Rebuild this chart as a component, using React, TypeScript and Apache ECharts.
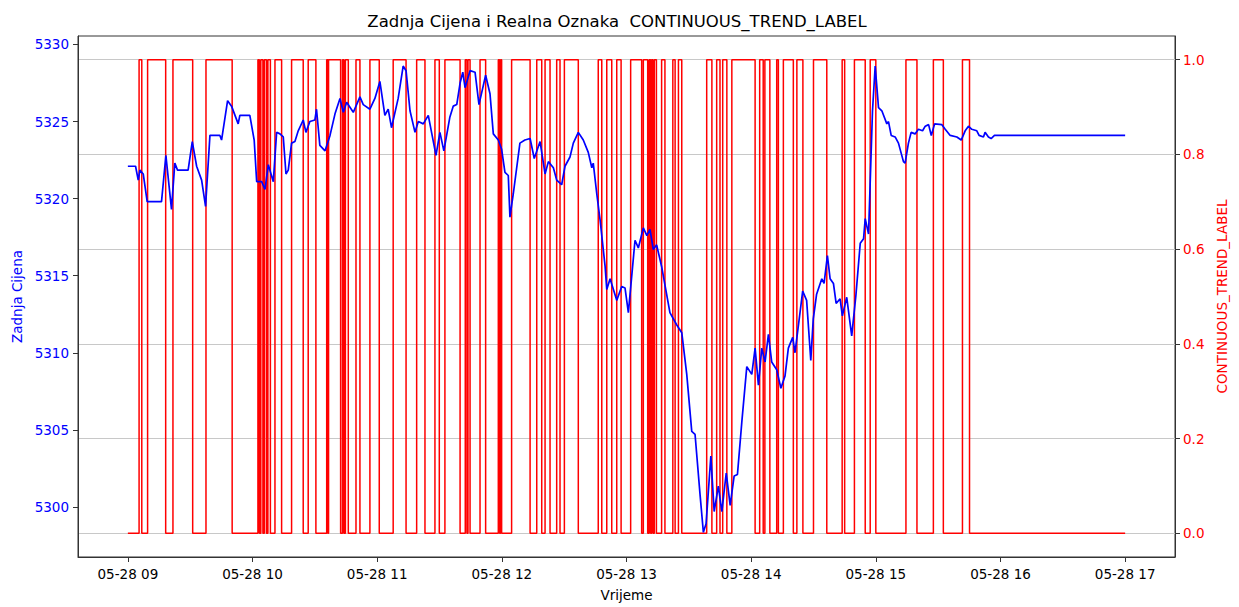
import React, { useEffect, useRef } from 'react';
import * as echarts from 'echarts';

// ---- data (time in minutes after 05-28 09:00) ----
const X_TICK_MINUTES = [0, 60, 120, 180, 240, 300, 360, 420, 480];
const X_TICK_LABELS = ['05-28 09', '05-28 10', '05-28 11', '05-28 12', '05-28 13', '05-28 14', '05-28 15', '05-28 16', '05-28 17'];
const PRICE_TICKS = [5300, 5305, 5310, 5315, 5320, 5325, 5330];
const LABEL_TICKS = [0, 0.2, 0.4, 0.6, 0.8, 1.0];

const priceMinutes = [
  0, 3.7, 5.0, 5.8, 7.4, 9.3, 16.2, 18.3, 21.0, 22.6, 23.9, 29.0, 31.0, 33.1, 35.5, 37.4, 39.5, 44.3, 45.1, 48.0,
  49.9, 53.1, 53.9, 58.7, 60.8, 62.0, 64.4, 66.0, 67.6, 70.0, 71.6, 73.2, 74.8, 76.1, 77.2, 78.8, 80.4, 82.0, 84.4, 85.7,
  87.6, 90.0, 90.8, 92.4, 94.9, 97.3, 99.7, 102.1, 103.7, 105.3, 108.5, 111.7, 113.3, 116.5, 118.9, 121.3, 123.7, 125.3, 126.9, 130.1,
  132.5, 133.9, 135.8, 138.2, 139.8, 142.2, 144.6, 148.3, 150.2, 152.1, 155.0, 156.6, 158.3, 159.9, 161.2, 162.3, 164.7, 167.1, 169.0, 172.2,
  174.3, 175.9, 178.3, 179.9, 181.5, 183.1, 183.9, 185.5, 188.7, 191.1, 193.6, 195.6, 198.4, 200.8, 202.4, 204.8, 206.4, 208.8, 210.4, 212.8,
  214.4, 216.8, 219.2, 221.6, 223.3, 224.0, 225.7, 227.3, 229.7, 230.5, 232.1, 235.3, 237.7, 239.3, 240.9, 244.1, 245.7, 248.1, 249.8, 251.3,
  252.9, 254.5, 256.9, 260.9, 264.2, 266.6, 269.0, 271.4, 273.0, 275.4, 277.0, 278.3, 280.6, 282.2, 284.2, 285.9, 288.0, 289.9, 291.8, 293.4,
  295.5, 297.9, 300.3, 301.9, 303.5, 305.1, 306.7, 308.3, 309.9, 312.3, 314.3, 316.3, 317.9, 320.0, 321.1, 324.8, 326.7, 328.7, 329.9, 331.5,
  334.0, 335.1, 336.7, 338.0, 339.6, 340.9, 342.8, 343.9, 346.0, 348.4, 350.4, 352.5, 354.1, 354.9, 356.5, 358.4, 359.7, 361.3, 362.9, 365.3,
  366.1, 367.4, 369.3, 370.9, 373.3, 374.1, 375.7, 377.0, 378.9, 380.5, 382.5, 383.8, 385.4, 386.7, 388.3, 391.8, 393.4, 395.8, 399.0, 401.1,
  403.0, 404.6, 406.2, 408.6, 409.7, 411.8, 412.6, 414.2, 415.5, 417.1, 480,
];
const priceValues = [
  5322.1, 5322.1, 5321.2, 5321.85, 5321.6, 5319.8, 5319.8, 5322.8, 5319.3, 5322.3, 5321.85, 5321.85, 5323.7, 5322.1, 5321.2, 5319.5, 5324.1, 5324.1, 5323.8, 5326.35,
  5326.0, 5324.85, 5325.4, 5325.4, 5323.8, 5321.1, 5321.1, 5320.6, 5322.2, 5321.1, 5324.3, 5324.2, 5324.0, 5321.6, 5321.85, 5323.6, 5323.7, 5324.4, 5325.1, 5324.3,
  5325.0, 5325.1, 5325.8, 5323.45, 5323.1, 5324.1, 5325.5, 5326.5, 5325.6, 5326.25, 5325.6, 5326.6, 5326.1, 5325.8, 5326.5, 5327.6, 5325.4, 5325.8, 5324.6, 5326.5,
  5328.6, 5328.3, 5325.7, 5324.3, 5325.0, 5324.85, 5325.4, 5322.8, 5324.3, 5323.1, 5325.3, 5326.0, 5326.1, 5327.5, 5328.2, 5327.2, 5328.3, 5328.2, 5326.1, 5328.0,
  5326.8, 5324.2, 5323.8, 5323.2, 5321.7, 5321.5, 5318.8, 5320.3, 5323.6, 5323.8, 5323.9, 5322.6, 5323.7, 5321.6, 5322.4, 5322.0, 5321.2, 5320.9, 5322.1, 5322.7,
  5323.6, 5324.3, 5323.8, 5323.0, 5322.0, 5322.3, 5320.3, 5318.6, 5315.6, 5314.1, 5314.8, 5313.4, 5314.3, 5314.2, 5312.6, 5317.3, 5316.8, 5318.1, 5317.6, 5318.0,
  5316.7, 5317.0, 5315.6, 5312.6, 5311.8, 5311.3, 5308.6, 5304.9, 5304.7, 5300.8, 5298.35, 5298.9, 5303.3, 5299.7, 5301.35, 5299.7, 5302.2, 5300.1, 5302.0, 5302.1,
  5305.5, 5309.1, 5308.6, 5310.3, 5307.9, 5310.3, 5309.4, 5311.2, 5309.4, 5308.9, 5307.7, 5308.5, 5310.3, 5311.0, 5310.0, 5314.0, 5313.4, 5309.5, 5312.2, 5313.8,
  5314.8, 5314.5, 5316.3, 5314.8, 5314.5, 5313.2, 5313.5, 5312.4, 5313.6, 5311.1, 5313.7, 5317.1, 5317.4, 5318.7, 5317.7, 5325.7, 5328.6, 5325.9, 5325.7, 5324.85,
  5325.0, 5324.1, 5324.0, 5323.6, 5322.4, 5322.3, 5323.6, 5324.3, 5324.2, 5324.5, 5324.4, 5324.7, 5324.8, 5324.1, 5324.85, 5324.8, 5324.5, 5324.1, 5324.0, 5323.8,
  5324.4, 5324.7, 5324.5, 5324.4, 5324.1, 5324.0, 5324.3, 5324.0, 5323.9, 5324.1, 5324.1,
];

// minutes where CONTINUOUS_TREND_LABEL switches to 1 and back to 0
const labelOnStart = [
  5.4, 9.5, 21.7, 37.6, 62.6, 64.0, 65.7, 67.4, 70.8, 78.8, 86.8, 95.7, 96.6, 103.3, 104.7, 109.8, 116.5, 127.7, 139.0, 147.8,
  152.6, 162.4, 163.7, 169.5, 178.3, 179.4, 184.7, 196.8, 200.8, 206.4, 210.1, 226.4, 230.5, 235.3, 242.0, 248.1, 250.9, 252.1, 253.4, 256.9,
  262.3, 265.0, 278.6, 283.4, 286.3, 290.7, 304.1, 306.6, 312.3, 315.5, 322.0, 330.0, 343.8, 349.7, 357.3, 374.5, 387.7, 401.7,
];
const labelOnEnd = [
  6.7, 18.2, 31.2, 50.2, 63.3, 65.0, 66.7, 68.6, 74.0, 84.4, 90.5, 96.2, 102.4, 104.0, 106.1, 111.7, 121.0, 133.9, 143.0, 149.9,
  159.9, 163.2, 164.7, 172.2, 178.9, 179.9, 193.6, 199.2, 203.2, 208.0, 216.8, 228.1, 232.9, 237.4, 247.3, 250.2, 251.6, 252.8, 254.4, 258.5,
  263.4, 266.6, 281.1, 285.0, 288.3, 301.9, 305.8, 309.0, 313.1, 320.3, 324.9, 336.4, 345.0, 354.9, 360.0, 379.8, 392.5, 405.1,
];
const LABEL_END_MINUTE = 480;

const FONT = 'DejaVu Sans';

function buildOption() {
  const priceData = priceMinutes.map((m, i) => [m, priceValues[i]]);
  const labelData: number[][] = [[0, 0]];
  labelOnStart.forEach((s, i) => {
    labelData.push([s, 0], [s, 1], [labelOnEnd[i], 1], [labelOnEnd[i], 0]);
  });
  labelData.push([LABEL_END_MINUTE, 0]);

  const axisLine = { show: true, onZero: false, lineStyle: { color: '#333', width: 1 } };

  return {
    animation: false,
    backgroundColor: '#ffffff',
    textStyle: { fontFamily: FONT },
    title: {
      text: 'Zadnja Cijena i Realna Oznaka  CONTINUOUS_TREND_LABEL',
      left: 612,
      top: 8,
      textAlign: 'center',
      textStyle: { fontFamily: FONT, fontSize: 16.5, fontWeight: 'normal', color: '#000' },
    },
    grid: { left: 78, right: 64, top: 36, bottom: 45, show: true, borderColor: '#333', borderWidth: 1, backgroundColor: 'transparent' },
    xAxis: {
      type: 'value',
      min: -24,
      max: 504,
      name: 'Vrijeme',
      nameLocation: 'middle',
      nameGap: 31,
      nameTextStyle: { fontFamily: FONT, fontSize: 13.5, color: '#000' },
      axisLine,
      axisTick: { show: true, length: 5, lineStyle: { color: '#333' }, customValues: X_TICK_MINUTES },
      axisLabel: {
        customValues: X_TICK_MINUTES,
        margin: 10,
        fontFamily: FONT,
        fontSize: 13.5,
        color: '#000',
        formatter: (v: number) => X_TICK_LABELS[X_TICK_MINUTES.indexOf(Math.round(v))] ?? '',
      },
      splitLine: { show: false },
    },
    yAxis: [
      {
        type: 'value',
        position: 'left',
        min: 5296.75,
        max: 5330.55,
        name: 'Zadnja Cijena',
        nameLocation: 'middle',
        nameGap: 52,
        nameTextStyle: { fontFamily: FONT, fontSize: 13.5, color: 'blue' },
        axisLine,
        axisTick: { show: true, length: 5, lineStyle: { color: '#333' }, customValues: PRICE_TICKS },
        axisLabel: {
          customValues: PRICE_TICKS,
          margin: 9,
          fontFamily: FONT,
          fontSize: 13.5,
          color: 'blue',
          formatter: (v: number) => String(Math.round(v)),
        },
        splitLine: { show: false },
      },
      {
        type: 'value',
        position: 'right',
        min: -0.05,
        max: 1.05,
        name: 'CONTINUOUS_TREND_LABEL',
        nameLocation: 'middle',
        nameGap: 37,
        nameRotate: 90,
        nameTextStyle: { fontFamily: FONT, fontSize: 13.5, color: 'red' },
        axisLine,
        axisTick: { show: true, length: 5, lineStyle: { color: '#333' }, customValues: LABEL_TICKS },
        axisLabel: {
          customValues: LABEL_TICKS,
          margin: 8,
          fontFamily: FONT,
          fontSize: 13.5,
          color: 'red',
          formatter: (v: number) => v.toFixed(1),
        },
        splitLine: { show: true, lineStyle: { color: '#c8c8c8', width: 1.2 } },
      },
    ],
    series: [
      {
        name: 'CONTINUOUS_TREND_LABEL',
        type: 'line',
        yAxisIndex: 1,
        data: labelData,
        showSymbol: false,
        lineStyle: { color: 'red', width: 1.5 },
        itemStyle: { color: 'red' },
        z: 2,
      },
      {
        name: 'Zadnja Cijena',
        type: 'line',
        yAxisIndex: 0,
        data: priceData,
        showSymbol: false,
        lineStyle: { color: 'blue', width: 1.7 },
        itemStyle: { color: 'blue' },
        z: 3,
      },
    ],
  };
}

export default function App() {
  const ref = useRef<HTMLDivElement>(null);
  useEffect(() => {
    if (!ref.current) return;
    const chart = echarts.init(ref.current, null, { renderer: 'svg' });
    chart.setOption(buildOption() as any);
    return () => chart.dispose();
  }, []);
  return (
    <div
      ref={ref}
      style={{ position: 'absolute', left: 0, top: 0, width: 1239, height: 607, background: '#fff' }}
    />
  );
}
